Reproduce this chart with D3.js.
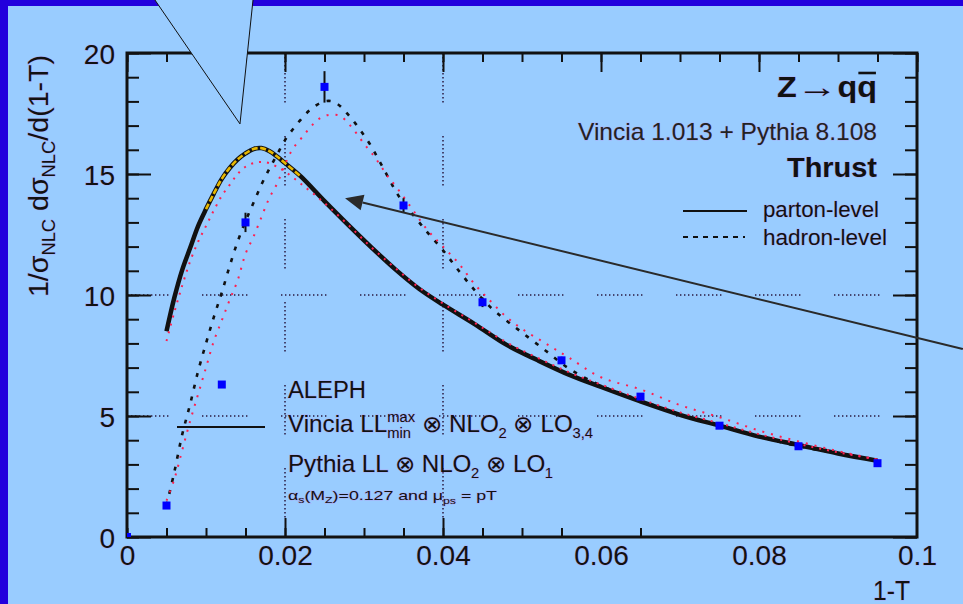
<!DOCTYPE html>
<html><head><meta charset="utf-8">
<script src="https://cdn.jsdelivr.net/npm/d3@7"></script>
<style>
body{margin:0;background:#99ccff}
svg{display:block}
text{font-family:"Liberation Sans",Arial,Helvetica,sans-serif;white-space:pre;fill:#111;paint-order:stroke;stroke:rgba(185,140,235,0.5);stroke-width:1.1px}
</style></head>
<body><svg id="c" width="963" height="604"></svg>
<script>
// ---------------- data ----------------
const xTickValues = [0, 0.02, 0.04, 0.06, 0.08, 0.1];
const xTickLabels = ["0", "0.02", "0.04", "0.06", "0.08", "0.1"];
const xMajorTicks = [0.02, 0.04];
const xBottomMinor = [0,0.005,0.01,0.015,0.02,0.025,0.03,0.035,0.04,0.045,0.05,0.055,0.065];
const yTickValues = [0, 5, 10, 15, 20];
const yTickLabels = ["0", "5", "10", "15", "20"];
const gridX = [0.02, 0.04];
const gridY = [5, 10];

// Vincia parton-level (solid)
const vinciaPartonX = [0.005,0.006,0.007,0.008,0.009,0.010,0.011,0.012,0.013,0.014,0.015,0.016,0.017,0.018,0.019,0.020,0.022,0.025,0.028,0.031,0.034,0.037,0.040,0.044,0.048,0.052,0.056,0.060,0.065,0.070,0.075,0.080,0.085,0.090,0.095];
const vinciaPartonY = [8.5,9.9,11.05,11.95,12.85,13.55,14.2,14.8,15.25,15.6,15.85,16.03,16.07,15.95,15.72,15.45,14.9,13.88,12.9,11.95,11.05,10.25,9.6,8.8,7.95,7.3,6.7,6.2,5.6,5.05,4.6,4.15,3.8,3.45,3.15];
const vinciaBandRange = [0.0115, 0.0215];

// Vincia hadron-level (dashed)
const vinciaHadronX = [0.005,0.006,0.007,0.008,0.009,0.010,0.011,0.012,0.013,0.014,0.015,0.016,0.017,0.018,0.019,0.020,0.021,0.022,0.023,0.024,0.025,0.026,0.027,0.028,0.029,0.030,0.031,0.032,0.033,0.034,0.035,0.036,0.038,0.040,0.042,0.044,0.046,0.048,0.050,0.053,0.056,0.060,0.065,0.070,0.075,0.080,0.085,0.090,0.095];
const vinciaHadronY = [1.3,2.7,4.25,5.5,6.85,8.0,9.1,10.1,11.2,12.2,13.05,13.8,14.55,15.2,15.8,16.4,16.85,17.25,17.6,17.85,18.0,18.0,17.8,17.45,17.05,16.6,16.1,15.5,14.9,14.3,13.8,13.4,12.6,11.85,11.0,10.2,9.5,8.95,8.45,7.7,6.95,6.25,5.65,5.05,4.6,4.15,3.75,3.45,3.15];

// Pythia parton-level (red dotted)
const pythiaPartonX = [0.005,0.006,0.007,0.008,0.009,0.010,0.011,0.012,0.013,0.014,0.015,0.016,0.017,0.018,0.019,0.020,0.022,0.025,0.028,0.031,0.034,0.037,0.040,0.044,0.048,0.052,0.056,0.060,0.065,0.070,0.075,0.080,0.085,0.090,0.095];
const pythiaPartonY = [8.1,9.3,10.4,11.4,12.2,12.85,13.5,14.1,14.55,15.0,15.3,15.45,15.5,15.45,15.3,15.1,14.6,13.8,12.9,11.95,11.1,10.3,9.65,8.85,8.05,7.4,6.8,6.3,5.7,5.15,4.7,4.25,3.85,3.5,3.2];

// Pythia hadron-level (red dotted)
const pythiaHadronX = [0.005,0.006,0.007,0.008,0.009,0.010,0.011,0.012,0.013,0.014,0.015,0.016,0.017,0.018,0.019,0.020,0.021,0.022,0.023,0.024,0.025,0.026,0.027,0.028,0.029,0.030,0.031,0.032,0.033,0.034,0.036,0.038,0.040,0.042,0.044,0.046,0.048,0.050,0.053,0.056,0.060,0.065,0.070,0.075,0.080,0.085,0.090,0.095];
const pythiaHadronY = [1.5,2.4,3.6,4.8,5.9,7.0,8.1,8.95,9.8,10.6,11.7,12.4,13.2,14.0,14.6,15.4,16.05,16.45,16.85,17.2,17.4,17.45,17.4,17.1,16.7,16.25,15.85,15.4,14.9,14.5,13.6,12.7,12.0,11.3,10.45,9.75,9.1,8.6,8.0,7.4,6.6,6.1,5.45,4.95,4.4,3.95,3.55,3.2];

// ALEPH data
const alephX = [0.0, 0.005, 0.012, 0.015, 0.025, 0.035, 0.045, 0.055, 0.065, 0.075, 0.085, 0.095];
const alephY = [0.0, 1.3, 6.3, 13.0, 18.6, 13.7, 9.7, 7.3, 5.8, 4.6, 3.75, 3.05];
const alephErr = [0, 0.1, 0.1, 0.4, 0.65, 0.3, 0.2, 0.15, 0.1, 0.1, 0.1, 0.1];

// annotation overlay (data units)
const arrowTip = [0.0276, 14.0];
const arrowTail = [0.1058, 7.77];
const calloutPts = [[0.00354, 22.19], [0.0143, 17.07], [0.01595, 22.19]];

// ---------------- chart ----------------
const svg = d3.select("#c");
const W = 963, H = 604;
const x = d3.scaleLinear().domain([0, 0.1]).range([127, 917]);
const y = d3.scaleLinear().domain([0, 20]).range([537, 53]);

svg.append("rect").attr("width", W).attr("height", H).attr("fill", "#99ccff");
svg.append("rect").attr("x", 0).attr("y", 0).attr("width", 8).attr("height", H).attr("fill", "#2200dd");
svg.append("rect").attr("x", 0).attr("y", 0).attr("width", W).attr("height", 6).attr("fill", "#2200dd");

// helper: compose rich text from parts, fit horizontally into [x0,x1]
function rich(parent, parts, x0, x1, yb, rot) {
  const outer = parent.append("g");
  const g = outer.append("g");
  let cx = 0, held = 0;
  parts.forEach(p => {
    const t = g.append("text").attr("x", cx).attr("y", p.dy || 0)
      .attr("font-size", p.s).text(p.t);
    if (p.w) t.attr("font-weight", p.w);
    if (p.c) t.style("fill", p.c);
    if (p.len) t.attr("textLength", p.len).attr("lengthAdjust", "spacingAndGlyphs");
    const w = p.len || t.node().getComputedTextLength();
    if (p.over) {
      g.append("line").attr("x1", cx + 1).attr("x2", cx + w - 1)
        .attr("y1", -p.s * 0.8).attr("y2", -p.s * 0.8)
        .attr("stroke", "#111").attr("stroke-width", 2.6);
    }
    if (p.hold) held = Math.max(held, w);
    else { cx += Math.max(held, w); held = 0; }
  });
  const sx = (x1 - x0) / cx;
  g.attr("transform", `scale(${sx},1)`);
  if (rot) outer.attr("transform", `translate(${yb},${x1}) rotate(-90)`);
  else outer.attr("transform", `translate(${x0},${yb})`);
  return outer;
}

// grid (dotted dashes)
function dotPattern(n, gap) {
  const a = [];
  for (let i = 0; i < n; i++) { a.push(1.4); a.push(i === n - 1 ? 2.6 + gap : 2.6); }
  return a.join(",");
}
const gridG = svg.append("g");
gridY.forEach(v => {
  gridG.append("line").attr("x1", x(0)).attr("x2", x(0.1)).attr("y1", y(v)).attr("y2", y(v))
    .attr("stroke", "#2a1840").attr("stroke-width", 1.5)
    .attr("stroke-dasharray", dotPattern(12, 31)).attr("stroke-dashoffset", 4);
});
gridX.forEach(v => {
  gridG.append("line").attr("x1", x(v)).attr("x2", x(v)).attr("y1", y(20)).attr("y2", y(0))
    .attr("stroke", "#2a1840").attr("stroke-width", 1.5)
    .attr("stroke-dasharray", dotPattern(13, 31));
});

// axes
function styleAxis(g) {
  g.select(".domain").remove();
  g.attr("font-family", null).attr("font-size", null);
  g.selectAll(".tick line").attr("stroke", "#111").attr("stroke-width", 2);
  g.selectAll(".tick text").attr("font-size", 28).style("fill", "#111");
}
const xMinor = d3.range(0, 21).map(i => i * 0.005);
const yMinor = d3.range(0, 21);
svg.append("g").attr("transform", `translate(0,${y(0)})`)
  .call(d3.axisBottom(x).tickValues(xBottomMinor).tickSize(-9).tickSizeOuter(0).tickFormat("")).call(styleAxis);
svg.append("g").attr("transform", `translate(0,${y(0)})`)
  .call(d3.axisBottom(x).tickValues(xMajorTicks).tickSize(-19).tickSizeOuter(0).tickFormat("")).call(styleAxis);
svg.append("g").attr("transform", `translate(0,${y(0)})`)
  .call(d3.axisBottom(x).tickValues(xTickValues).tickSize(0).tickSizeOuter(0).tickPadding(8)
    .tickFormat((d, i) => xTickLabels[i])).call(styleAxis);
svg.append("g").attr("transform", `translate(0,${y(20)})`)
  .call(d3.axisTop(x).tickValues(xMinor).tickSize(-9).tickSizeOuter(0).tickFormat("")).call(styleAxis);
svg.append("g").attr("transform", `translate(0,${y(20)})`)
  .call(d3.axisTop(x).tickValues(xTickValues).tickSize(-19).tickSizeOuter(0).tickFormat("")).call(styleAxis);
svg.append("g").attr("transform", `translate(${x(0)},0)`)
  .call(d3.axisLeft(y).tickValues(yMinor).tickSize(-12).tickSizeOuter(0).tickFormat("")).call(styleAxis);
const yAx = svg.append("g").attr("transform", `translate(${x(0)},0)`)
  .call(d3.axisLeft(y).tickValues(yTickValues).tickSize(-24).tickSizeOuter(0).tickPadding(12)
    .tickFormat((d, i) => yTickLabels[i])).call(styleAxis);
yAx.selectAll(".tick text").attr("dy", "0.38em");
svg.append("g").attr("transform", `translate(${x(0.1)},0)`)
  .call(d3.axisRight(y).tickValues(yMinor).tickSize(-12).tickSizeOuter(0).tickFormat("")).call(styleAxis);
svg.append("g").attr("transform", `translate(${x(0.1)},0)`)
  .call(d3.axisRight(y).tickValues(yTickValues).tickSize(-24).tickSizeOuter(0).tickFormat("")).call(styleAxis);

// frame
svg.append("rect").attr("x", x(0)).attr("y", y(20)).attr("width", x(0.1) - x(0)).attr("height", y(0) - y(20))
  .attr("fill", "none").attr("stroke", "#111").attr("stroke-width", 3);

// curves
svg.append("clipPath").attr("id", "pc").append("rect")
  .attr("x", x(0)).attr("y", y(20)).attr("width", x(0.1) - x(0)).attr("height", y(0) - y(20));
const plot = svg.append("g").attr("clip-path", "url(#pc)");
const line = d3.line().x(d => x(d[0])).y(d => y(d[1])).curve(d3.curveCatmullRom.alpha(0.5));
const zip = (a, b) => a.map((v, i) => [v, b[i]]);

plot.append("path").attr("d", line(zip(vinciaHadronX, vinciaHadronY)))
  .attr("fill", "none").attr("stroke", "#111").attr("stroke-width", 2.6).attr("stroke-dasharray", "4,8");
plot.append("path").attr("d", line(zip(vinciaPartonX, vinciaPartonY)))
  .attr("fill", "none").attr("stroke", "#111").attr("stroke-width", 4.5).attr("stroke-linejoin", "round");
const band = zip(vinciaPartonX, vinciaPartonY).filter(d => d[0] >= vinciaBandRange[0] - 0.0015 && d[0] <= vinciaBandRange[1] + 0.0015);
plot.append("path").attr("d", line(band))
  .attr("fill", "none").attr("stroke", "#e8b800").attr("stroke-width", 2.6).attr("stroke-dasharray", "6,2.5");
plot.append("path").attr("d", line(zip(pythiaHadronX, pythiaHadronY)))
  .attr("fill", "none").attr("stroke", "#ff1f4f").attr("stroke-width", 2).attr("stroke-dasharray", "2,7");
plot.append("path").attr("d", line(zip(pythiaPartonX, pythiaPartonY)))
  .attr("fill", "none").attr("stroke", "#ff1f4f").attr("stroke-width", 2).attr("stroke-dasharray", "2,6");

// ALEPH
const aleph = alephX.map((v, i) => ({ x: v, y: alephY[i], e: alephErr[i] }));
plot.selectAll(".err").data(aleph).join("line")
  .attr("x1", d => x(d.x)).attr("x2", d => x(d.x))
  .attr("y1", d => y(d.y + d.e)).attr("y2", d => y(d.y - d.e))
  .attr("stroke", "#111").attr("stroke-width", 2);
plot.selectAll(".pt").data(aleph).join("rect")
  .attr("x", d => x(d.x) - 4).attr("y", d => y(d.y) - 4).attr("width", 8).attr("height", 8)
  .attr("fill", "#0000ff");

// top-right labels
rich(svg, [{ t: "Z", s: 30, w: "bold" }, { t: "→", s: 30, w: "bold", len: 38 }, { t: "q", s: 30, w: "bold" }, { t: "q", s: 30, w: "bold", over: true }], 777, 877, 97);
rich(svg, [{ t: "Vincia 1.013 + Pythia 8.108", s: 24, c: "#222" }], 578, 877, 140);
rich(svg, [{ t: "Thrust", s: 28, w: "bold" }], 787, 877, 177);
svg.append("line").attr("x1", 683).attr("x2", 747).attr("y1", 211).attr("y2", 211).attr("stroke", "#111").attr("stroke-width", 2);
svg.append("line").attr("x1", 683).attr("x2", 745).attr("y1", 237).attr("y2", 237).attr("stroke", "#111").attr("stroke-width", 2).attr("stroke-dasharray", "5,5");
rich(svg, [{ t: "parton-level", s: 22 }], 763, 879, 217);
rich(svg, [{ t: "hadron-level", s: 22 }], 763, 887, 245);

// bottom-left legend
svg.append("line").attr("x1", 177).attr("x2", 265).attr("y1", 427).attr("y2", 427).attr("stroke", "#111").attr("stroke-width", 2);
rich(svg, [{ t: "ALEPH", s: 23 }], 288, 366, 398);
rich(svg, [{ t: "Vincia LL", s: 23 }, { t: "max", s: 14, dy: -10, hold: true }, { t: "min", s: 14, dy: 6 },
  { t: " ⊗ NLO", s: 23 }, { t: "2", s: 14, dy: 6 }, { t: " ⊗ LO", s: 23 }, { t: "3,4", s: 14, dy: 6 }], 288, 593, 432);
rich(svg, [{ t: "Pythia LL ⊗ NLO", s: 23 }, { t: "2", s: 14, dy: 6 }, { t: " ⊗ LO", s: 23 }, { t: "1", s: 14, dy: 6 }], 288, 553, 472);
rich(svg, [{ t: "α", s: 13 }, { t: "s", s: 9, dy: 3 }, { t: "(M", s: 13 }, { t: "Z", s: 9, dy: 3 }, { t: ")=0.127 and μ", s: 13 },
  { t: "ps", s: 9, dy: 4 }, { t: " = pT", s: 13 }], 288, 497, 500);

// axis titles
rich(svg, [{ t: "1-T", s: 27 }], 873, 910, 600);
rich(svg, [{ t: "1/σ", s: 28 }, { t: "NLC", s: 18, dy: 7 }, { t: " dσ", s: 28 }, { t: "NLC", s: 18, dy: 7 }, { t: "/d(1-T)", s: 28 }],
  55, 297, 48, true);

// slide overlay: callout and arrow
const ov = svg.append("g");
const cp = calloutPts.map(p => [x(p[0]), y(p[1])]);
ov.append("polygon").attr("points", cp.map(p => p.join(",")).join(" ")).attr("fill", "#99ccff");
ov.append("line").attr("x1", cp[0][0]).attr("y1", cp[0][1]).attr("x2", cp[1][0]).attr("y2", cp[1][1]).attr("stroke", "#111").attr("stroke-width", 1);
ov.append("line").attr("x1", cp[2][0]).attr("y1", cp[2][1]).attr("x2", cp[1][0]).attr("y2", cp[1][1]).attr("stroke", "#111").attr("stroke-width", 1);
const tip = [x(arrowTip[0]), y(arrowTip[1])], tail = [x(arrowTail[0]), y(arrowTail[1])];
const dx = tail[0] - tip[0], dy = tail[1] - tip[1], L = Math.hypot(dx, dy);
const ux = dx / L, uy = dy / L, hl = 18, hw = 8;
const bx = tip[0] + ux * hl, by = tip[1] + uy * hl;
ov.append("line").attr("x1", tail[0]).attr("y1", tail[1]).attr("x2", bx).attr("y2", by).attr("stroke", "#2a2a2a").attr("stroke-width", 2);
ov.append("polygon").attr("points", [[tip[0], tip[1]], [bx - uy * hw, by + ux * hw], [bx + uy * hw, by - ux * hw]].map(p => p.join(",")).join(" "))
  .attr("fill", "#2a2a2a");
</script></body></html>
